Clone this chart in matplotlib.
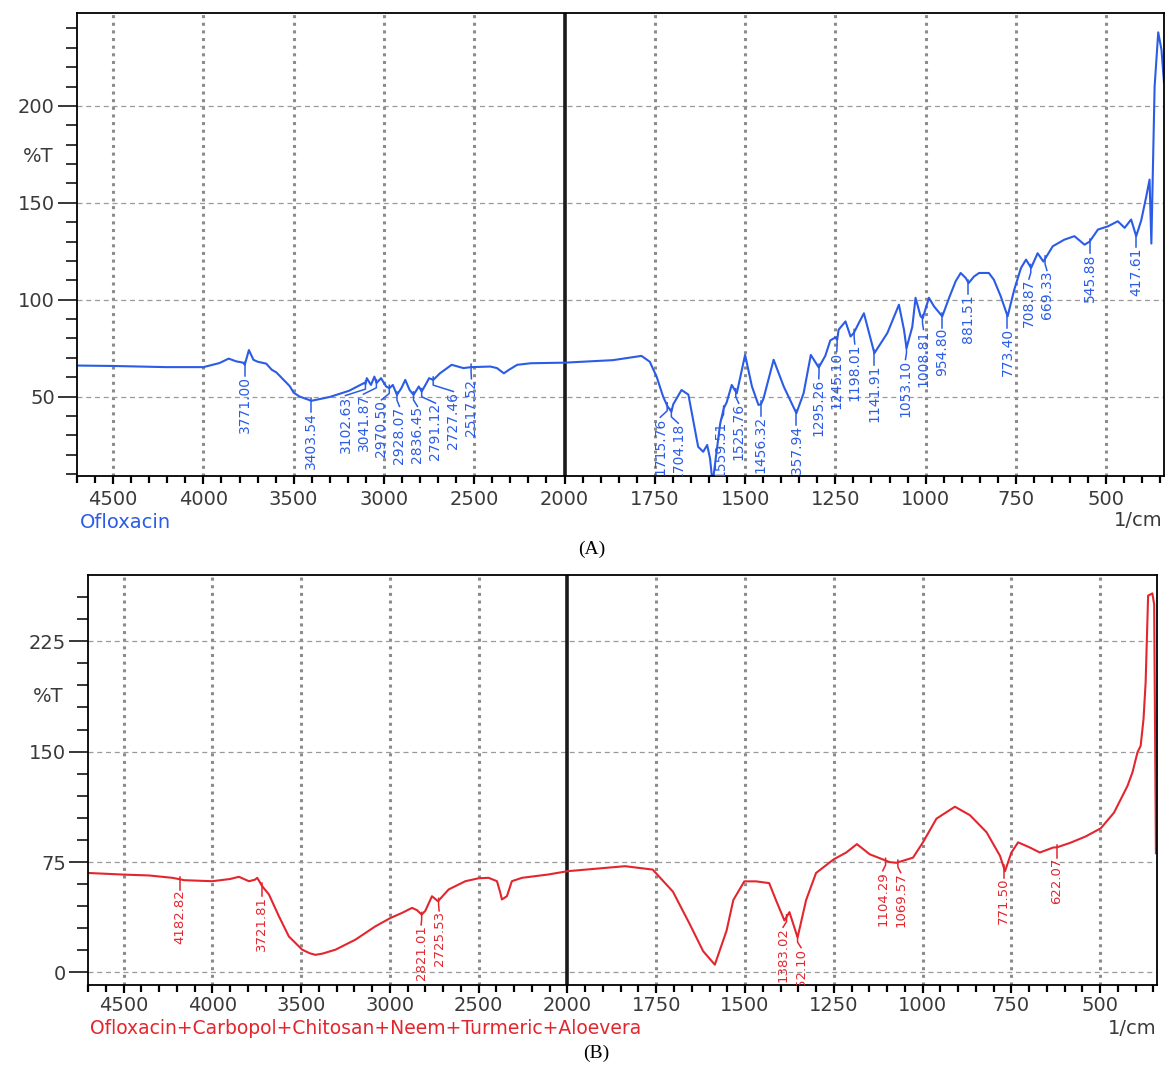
import numpy as np
import matplotlib
matplotlib.use('Agg')
import matplotlib.pyplot as plt
from matplotlib.ticker import FixedLocator, NullFormatter, FuncFormatter

# ---- panel A: Ofloxacin (wavenumber 1/cm, %T) ----
a_wn = [4690, 4500, 4207, 4000, 3911, 3860, 3819, 3780, 3771, 3748, 3723, 3700,
        3652, 3621, 3596, 3522, 3500, 3467, 3416, 3403, 3300, 3193, 3110, 3102,
        3095, 3072, 3053, 3041, 3016, 2988, 2970, 2951, 2928, 2904, 2882, 2858,
        2836, 2807, 2791, 2765, 2750, 2727, 2690, 2625, 2560, 2517, 2411, 2374,
        2336, 2308, 2262, 2187, 2000, 1866, 1787, 1764, 1745, 1727, 1715, 1704,
        1699, 1676, 1657, 1644, 1630, 1616, 1605, 1597, 1590, 1580, 1569, 1559,
        1551, 1537, 1523, 1500, 1481, 1463, 1456, 1449, 1421, 1393, 1358, 1338,
        1318, 1296, 1278, 1264, 1250, 1245, 1241, 1222, 1208, 1199, 1185, 1171,
        1157, 1142, 1106, 1074, 1060, 1053, 1037, 1028, 1014, 1008, 991, 977,
        954, 935, 917, 903, 889, 881, 866, 852, 825, 811, 792, 773, 755, 736,
        722, 708, 690, 674, 648, 616, 588, 560, 546, 523, 495, 468, 449, 431,
        417, 403, 389, 380, 375, 366, 356, 347, 340]
a_t = [66, 65.8, 65.2, 65.2, 67.3, 69.6, 68.2, 67.5, 66.4, 74, 69, 68,
       67, 63.8, 62.5, 55.4, 52, 50, 48.3, 47.8, 49.8, 53, 57, 56.5,
       59.5, 56, 60.3, 57, 59.5, 55.2, 54.3, 56, 50.9, 54.3, 58.6, 53.4,
       50.9, 55.2, 52.6, 56.9, 59.5, 58.6, 62, 66.4, 64.7, 65.2, 65.5, 64.7,
       62, 63.8, 66.4, 67.2, 67.5, 68.8, 71, 68, 60.3, 50, 45, 42.2,
       46, 53.4, 51, 37.9, 24.1, 21.5, 25, 18, 5, 20, 36, 44,
       47, 56, 51.7, 71.5, 55.2, 45.7, 46, 49, 69, 55.2, 41.4, 51.7,
       71.5, 65, 71, 79, 80.5, 79.3, 84.5, 88.8, 81, 82.8, 88, 93,
       83, 72.4, 82.8, 97.4, 84.5, 75, 86, 101, 91.4, 90.5, 101, 96.6,
       91.4, 101, 109.5, 113.8, 111.2, 108.6, 112, 113.8, 113.8, 110.3, 101.7, 91.4, 105, 116.4,
       120.7, 116.4, 124, 119.7, 127.6, 131, 132.8, 128.4, 130, 136.2, 137.9, 140.5, 137.1, 141.4,
       132.8, 141, 153.4, 162, 129, 210, 238, 229, 212]
a_peaks = [3771.00, 3403.54, 3102.63, 3041.87, 2970.50, 2928.07, 2836.45, 2791.12,
           2727.46, 2517.52, 1715.76, 1704.18, 1559.51, 1525.76, 1456.32, 1357.94,
           1295.26, 1245.10, 1198.01, 1141.91, 1053.10, 1008.81, 954.80, 881.51,
           773.40, 708.87, 669.33, 545.88, 417.61]

# ---- panel B: formulation ----
b_wn = [4700, 4500, 4356, 4225, 4190, 4159, 4000, 3900, 3850, 3794, 3760, 3747,
        3719, 3681, 3625, 3569, 3494, 3450, 3419, 3380, 3306, 3194, 3081, 2997,
        2931, 2875, 2847, 2821, 2800, 2763, 2729, 2669, 2575, 2500, 2444, 2397,
        2380, 2369, 2341, 2313, 2256, 2106, 2000, 1838, 1760, 1703, 1656, 1618,
        1585, 1552, 1533, 1502, 1469, 1432, 1413, 1389, 1375, 1352, 1328, 1300,
        1250, 1215, 1185, 1149, 1093, 1074, 1027, 999, 961, 909, 867, 820,
        782, 768, 750, 731, 698, 670, 632, 622, 585, 540, 498, 461,
        423, 409, 395, 386, 378, 372, 365, 353, 348, 343]
b_t = [67.6, 66.5, 65.9, 64.3, 63.5, 62.7, 62, 63.5, 65, 62, 63, 64.3,
       58.6, 53, 38.2, 24.5, 15.5, 13, 12, 12.8, 15.5, 22.3, 31.4, 37,
       40.5, 43.9, 42.3, 39.3, 42, 51.8, 48.4, 56.4, 62, 64, 64.3, 62,
       55, 49.6, 51.8, 62, 64.3, 66.6, 68.8, 72.2, 69.9, 54.9, 33, 14.5,
       5.3, 28.4, 49.2, 61.9, 61.9, 60.7, 49.2, 35.3, 41, 23.8, 49.2, 67.6,
       76.9, 81.5, 87.2, 80.3, 75, 74.5, 78, 88.4, 104.5, 112.6, 106.9, 95.3,
       79.2, 68.8, 81.5, 88.4, 84.9, 81.5, 84.9, 85, 88, 92.5, 98, 108.6,
       126.8, 136, 149.5, 154, 172, 197, 256, 257.5, 250, 81]
b_peaks = [4182.82, 3721.81, 2821.01, 2725.53, 1383.02, 1352.10, 1104.29,
           1069.57, 771.50, 622.07]

x_major = [4500, 4000, 3500, 3000, 2500, 2000, 1750, 1500, 1250, 1000, 750, 500]
x_minor = [v for v in range(4700, 2000, -100) if v % 500] + \
          [v for v in range(1950, 340, -50) if v % 250]

BLUE = '#2b5ce6'
RED = '#e3262e'
TXT = '#3a3a3a'


def fwd(x):
    x = np.asarray(x, dtype=float)
    return np.where(x < 2000, x, 2000 + (x - 2000) / 2)


def inv(u):
    u = np.asarray(u, dtype=float)
    return np.where(u < 2000, u, 2000 + (u - 2000) * 2)


def setup(ax, ylim, ymajor, yminor, xpad):
    ax.set_xscale('function', functions=(fwd, inv))
    ax.set_xlim(4700, 340)
    ax.set_ylim(*ylim)
    ax.xaxis.set_major_locator(FixedLocator(x_major))
    ax.xaxis.set_minor_locator(FixedLocator(x_minor))
    ax.xaxis.set_major_formatter(FuncFormatter(lambda v, p: f"{v:.0f}"))
    ax.xaxis.set_minor_formatter(NullFormatter())
    ax.yaxis.set_major_locator(FixedLocator(ymajor))
    ax.yaxis.set_minor_locator(FixedLocator(yminor))
    ax.yaxis.set_major_formatter(FuncFormatter(lambda v, p: f"{v:.0f}"))
    for v in x_major:
        if v != 2000:
            ax.axvline(v, color='#8c8c8c', ls=(0, (1.0, 1.5)), lw=2.2, zorder=0)
    for v in ymajor:
        ax.axhline(v, color='#9a9a9a', ls=(0, (4, 3)), lw=0.9, zorder=0)
    ax.axvline(2000, color='#1a1a1a', lw=2.6, zorder=1)
    ax.tick_params(axis='y', which='major', length=14, width=1.1, pad=2,
                   labelsize=14, labelcolor=TXT)
    ax.tick_params(axis='y', which='minor', length=8, width=1.1)
    ax.tick_params(axis='x', which='major', length=6, width=1.6, pad=xpad,
                   labelsize=14, labelcolor=TXT)
    ax.tick_params(axis='x', which='minor', length=5, width=1.6)
    for s in ax.spines.values():
        s.set_linewidth(1.3)


def label_peaks(ax, wn, t, peaks, color, drop, gap, fs):
    order = np.argsort(wn)
    wn_s = np.asarray(wn, float)[order]
    t_s = np.asarray(t, float)[order]
    pk = np.asarray(peaks, float)
    pt = np.interp(pk, wn_s, t_s)
    disp = ax.transData.transform(np.column_stack([pk, pt]))
    xs = disp[:, 0].copy()
    idx = np.argsort(xs)
    for _ in range(300):
        moved = False
        for a, b in zip(idx[:-1], idx[1:]):
            d = xs[b] - xs[a]
            if d < gap - 0.01:
                push = (gap - d) / 2
                xs[a] -= push
                xs[b] += push
                moved = True
        if not moved:
            break
    lab_x = ax.transData.inverted().transform(np.column_stack([xs, disp[:, 1]]))[:, 0]
    for p, y, lx in zip(pk, pt, lab_x):
        top = y - drop
        ax.plot([p, p, lx], [y + 1.5, y - drop * 0.45, top], color=color, lw=1.1, zorder=3)
        ax.text(lx, top, f"{p:.2f}", rotation=90, ha='center', va='top',
                fontsize=fs, color=color, clip_on=True, zorder=3)


fig = plt.figure(figsize=(11.69, 10.73), dpi=100)
W, H = 1169, 1073

# panel A
axA = fig.add_axes([77 / W, 1 - 476 / H, 1087 / W, 463 / H])
setup(axA, (9, 248), [50, 100, 150, 200], [v for v in range(10, 250, 10) if v % 50], 4)
axA.plot(a_wn, a_t, color=BLUE, lw=1.5, zorder=2)
label_peaks(axA, a_wn, a_t, a_peaks, BLUE, 6, 18, 10)

# panel B
axB = fig.add_axes([88 / W, 1 - 985 / H, 1069 / W, 410 / H])
setup(axB, (-8.5, 270), [0, 75, 150, 225], [v for v in range(15, 270, 15) if v % 75], 2)
axB.plot(b_wn, b_t, color=RED, lw=1.5, zorder=2)
label_peaks(axB, b_wn, b_t, b_peaks, RED, 7, 18, 9.5)

# texts
fig.text(38 / W, 1 - 157 / H, '%T', fontsize=14, color=TXT, ha='center', va='center')
fig.text(48 / W, 1 - 697 / H, '%T', fontsize=14, color=TXT, ha='center', va='center')
fig.text(80 / W, 1 - 522 / H, 'Ofloxacin', fontsize=14, color=BLUE, ha='left', va='center')
fig.text(1163 / W, 1 - 520 / H, '1/cm', fontsize=14, color=TXT, ha='right', va='center')
fig.text(90 / W, 1 - 1028 / H, 'Ofloxacin+Carbopol+Chitosan+Neem+Turmeric+Aloevera',
         fontsize=13.5, color=RED, ha='left', va='center')
fig.text(1157 / W, 1 - 1028 / H, '1/cm', fontsize=14, color=TXT, ha='right', va='center')
fig.text(592 / W, 1 - 549 / H, '(A)', fontsize=14, family='Liberation Serif',
         ha='center', va='center')
fig.text(596 / W, 1 - 1053 / H, '(B)', fontsize=14, family='Liberation Serif',
         ha='center', va='center')

fig.savefig('out.png', dpi=100)
